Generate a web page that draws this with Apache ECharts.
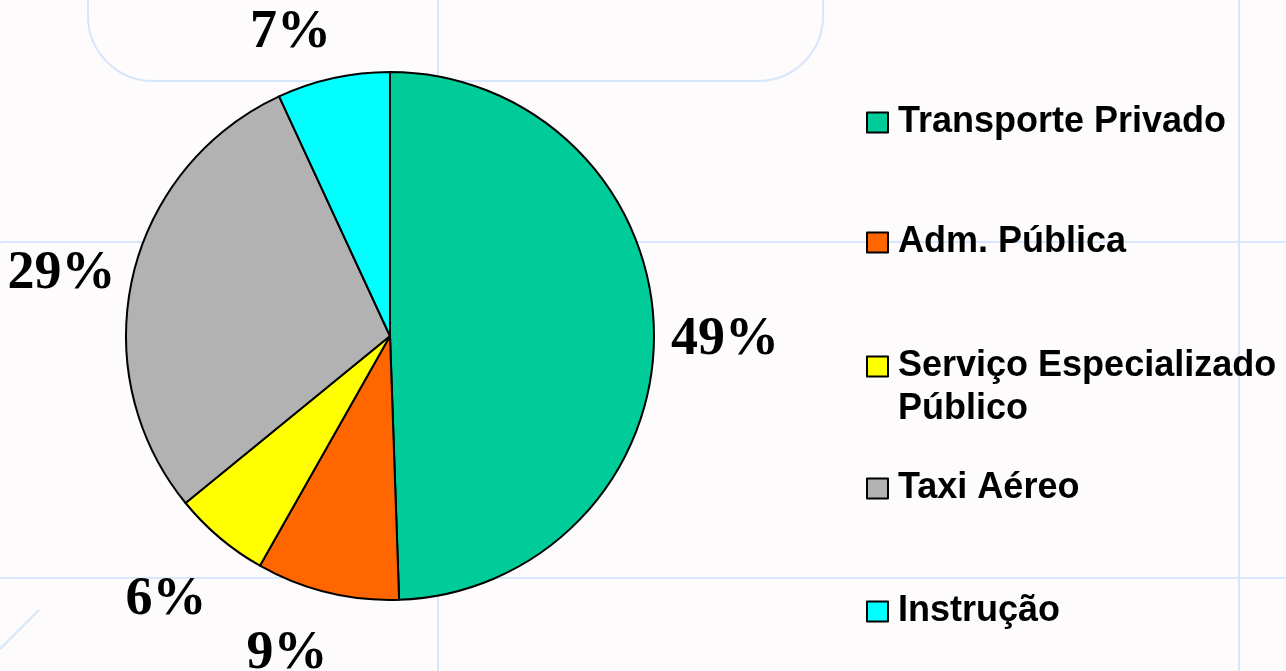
<!DOCTYPE html>
<html>
<head>
<meta charset="utf-8">
<title>Pie</title>
<script src="https://cdn.jsdelivr.net/npm/echarts@6/dist/echarts.min.js"></script>
<style>
  html, body { margin: 0; padding: 0; background: #fdfbfc; }
  #chart { width: 1286px; height: 671px; }
</style>
</head>
<body>
<div id="chart"></div>
<script>
// dados do grafico (% por segmento)
var categorias = ['Transporte Privado', 'Adm. Pública', 'Serviço Especializado Público', 'Taxi Aéreo', 'Instrução'];
var percentuais = [49.45, 8.75, 5.9, 29.0, 6.9];
var cores = ['#00cc99', '#ff6600', '#ffff00', '#b2b2b2', '#00ffff'];

var centro = [390, 336];
var raio = 264;
var distRotulo = 332;   // distancia do rotulo ao centro
// pequenos ajustes [dx, dy] de cada rotulo
var ajusteRotulo = [[3, 10], [-24, -4], [-10, 10], [-5, 13], [-28, 21]];

// topo de cada item da legenda
var legendaTop = [101, 221, 302, 467, 590];

var total = 0;
for (var i = 0; i < percentuais.length; i++) total += percentuais[i];

var dados = [];
for (var i = 0; i < categorias.length; i++) {
  dados.push({ name: categorias[i], value: percentuais[i], itemStyle: { color: cores[i] } });
}

// linhas de fundo (decoracao do slide)
var corFundo = '#d6e6fb';
var fundo = [
  { type: 'rect', shape: { x: 88, y: -90, width: 735, height: 171, r: 65 }, style: { fill: null, stroke: corFundo, lineWidth: 2 } },
  { type: 'rect', shape: { x: -12, y: 242, width: 1400, height: 336, r: 16 }, style: { fill: null, stroke: corFundo, lineWidth: 2 } },
  { type: 'line', shape: { x1: 438, y1: 0, x2: 438, y2: 671 }, style: { stroke: corFundo, lineWidth: 2 } },
  { type: 'line', shape: { x1: 1239, y1: 0, x2: 1239, y2: 671 }, style: { stroke: corFundo, lineWidth: 2 } },
  { type: 'line', shape: { x1: 0, y1: 649, x2: 39, y2: 610 }, style: { stroke: corFundo, lineWidth: 2 } }
];

var legendas = [];
for (var i = 0; i < categorias.length; i++) {
  legendas.push({
    orient: 'vertical',
    left: 866,
    top: legendaTop[i],
    padding: 0,
    data: [categorias[i]],
    icon: 'rect',
    itemWidth: 21,
    itemHeight: 20,
    itemStyle: { borderColor: '#000', borderWidth: 2 },
    // linha vazia antes para o quadrado ficar alinhado com a primeira linha
    formatter: function (name) {
      return name.indexOf(' Público') > 0 ? '\n' + name.replace(' Público', '\nPúblico') : name;
    },
    textStyle: {
      fontFamily: 'Liberation Sans, Arial, sans-serif',
      fontWeight: 'bold',
      fontSize: 36,
      lineHeight: 43,
      color: '#000',
      padding: [0, 0, 0, 5]
    }
  });
}

var chart = echarts.init(document.getElementById('chart'));
var option = {
  backgroundColor: '#fdfbfc',
  animation: false,
  graphic: fundo,
  legend: legendas,
  series: [{
    type: 'pie',
    center: centro,
    radius: raio,
    startAngle: 90,
    clockwise: true,
    data: dados,
    itemStyle: { borderColor: '#000', borderWidth: 2 },
    emphasis: { disabled: true },
    label: {
      show: true,
      position: 'outside',
      formatter: function (p) { return Math.round(p.value) + '%'; },
      overflow: 'none',
      fontFamily: 'Liberation Serif, Times New Roman, serif',
      fontWeight: 'bold',
      fontSize: 54,
      color: '#000'
    },
    labelLine: { show: false },
    labelLayout: function (p) {
      var acum = 0;
      for (var k = 0; k < p.dataIndex; k++) acum += percentuais[k];
      var meio = (acum + percentuais[p.dataIndex] / 2) / total * Math.PI * 2;
      var aj = ajusteRotulo[p.dataIndex];
      return {
        x: centro[0] + distRotulo * Math.sin(meio) + aj[0],
        y: centro[1] - distRotulo * Math.cos(meio) + aj[1],
        align: 'center',
        verticalAlign: 'middle'
      };
    }
  }]
};
chart.setOption(option);
</script>
</body>
</html>
